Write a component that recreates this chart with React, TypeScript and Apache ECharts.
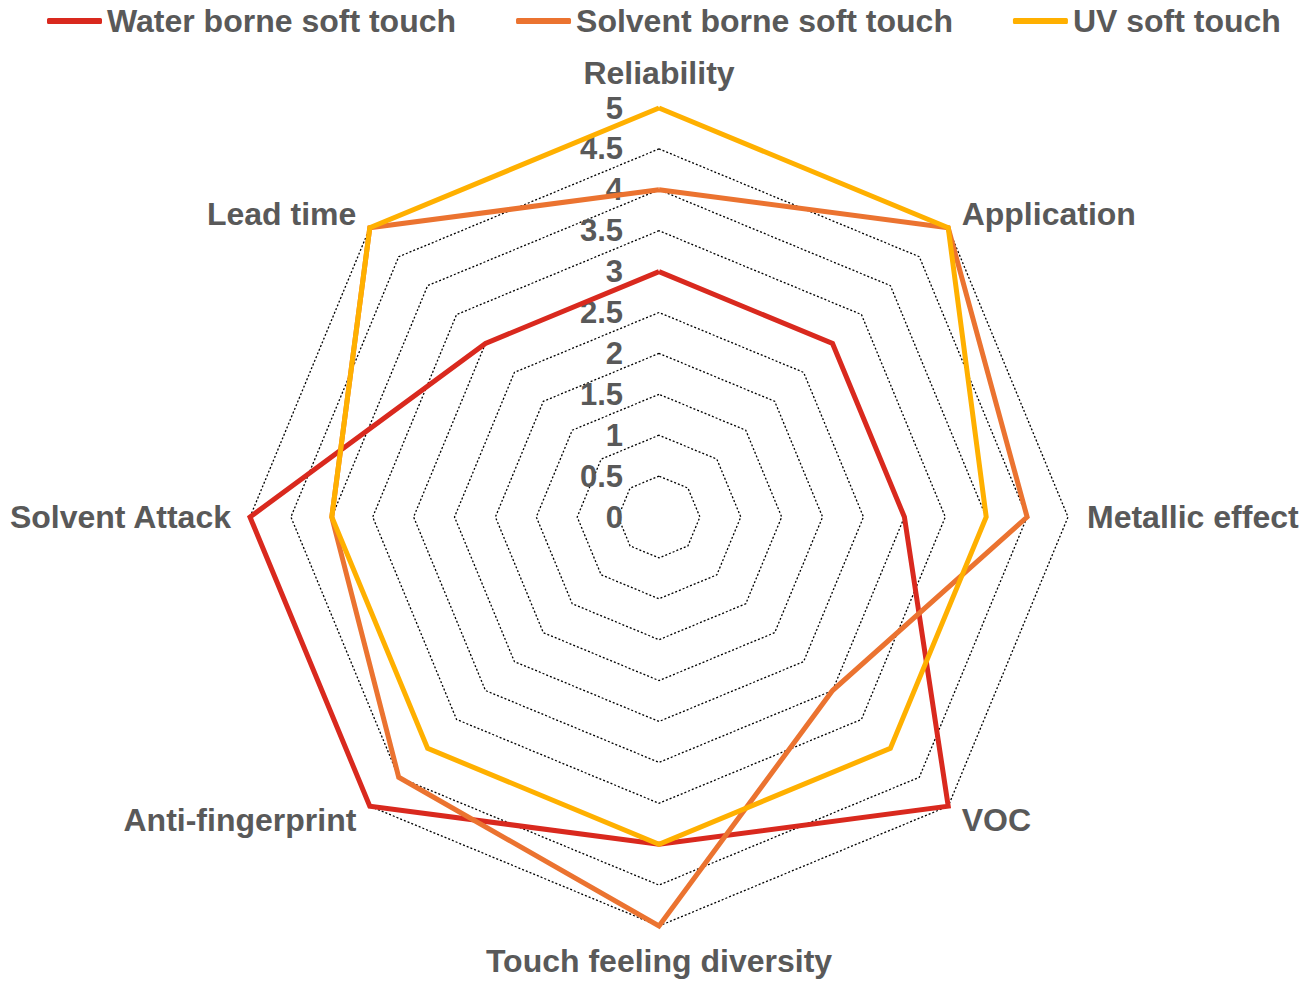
import React, { useEffect, useRef } from "react";
import * as echarts from "echarts";

// Indicators listed clockwise starting from the top
const categories = [
  "Reliability",
  "Application",
  "Metallic effect",
  "VOC",
  "Touch feeling diversity",
  "Anti-fingerprint",
  "Solvent Attack",
  "Lead time",
];
const seriesNames = ["Water borne soft touch", "Solvent borne soft touch", "UV soft touch"];
const waterBorne = [3, 3, 3, 5, 4, 5, 5, 3];
const solventBorne = [4, 5, 4.5, 3, 5, 4.5, 4, 5];
const uvSoftTouch = [5, 5, 4, 4, 4, 4, 4, 5];
const axisMin = 0;
const axisMax = 5;
const axisStep = 0.5;

const colors = ["#D9291E", "#EB7330", "#FFB000"];
const textColor = "#595959";
const fontFamily = "'Liberation Sans', Arial, sans-serif";

// ECharts places radar indicators counter-clockwise; reorder for clockwise display
const order = [0, ...Array.from({ length: categories.length - 1 }, (_, i) => categories.length - 1 - i)];
const reorder = (arr: any[]) => order.map((i) => arr[i]);

export default function App() {
  const ref = useRef<HTMLDivElement>(null);
  useEffect(() => {
    document.body.style.margin = "0";
    if (!ref.current) return;
    const chart = echarts.init(ref.current, null, { renderer: "svg" });
    const indicators = reorder(categories).map((name: string, idx: number) => ({
      name,
      min: axisMin,
      max: axisMax,
      axisLabel:
        idx === 0
          ? {
              show: true,
              color: textColor,
              fontSize: 31,
              fontWeight: "bold",
              fontFamily,
              margin: 36,
            }
          : { show: false },
    }));
    chart.setOption({
      animation: false,
      backgroundColor: "#ffffff",
      color: colors,
      legend: {
        top: 0,
        left: 42,
        itemWidth: 55,
        itemHeight: 6,
        itemGap: 60,
        icon: "roundRect",
        data: seriesNames,
        textStyle: {
          color: textColor,
          fontSize: 32,
          fontWeight: "bold",
          fontFamily,
        },
      },
      radar: {
        center: [659, 517],
        radius: 409,
        startAngle: 90,
        shape: "polygon",
        splitNumber: Math.round((axisMax - axisMin) / axisStep),
        nameGap: 19,
        indicator: indicators,
        axisName: {
          color: textColor,
          fontSize: 32,
          fontWeight: "bold",
          fontFamily,
        },
        axisLine: { show: false },
        axisTick: { show: false },
        splitArea: { show: false },
        splitLine: {
          lineStyle: { color: "#000000", type: [2, 2], width: 1.3 },
        },
      },
      series: [
        {
          type: "radar",
          symbol: "none",
          data: [
            { name: seriesNames[0], value: reorder(waterBorne) },
            { name: seriesNames[1], value: reorder(solventBorne) },
            { name: seriesNames[2], value: reorder(uvSoftTouch) },
          ].map((d, i) => ({
            ...d,
            lineStyle: { color: colors[i], width: 5, join: "miter" },
            itemStyle: { color: colors[i] },
          })),
        },
      ],
    });
    return () => chart.dispose();
  }, []);
  return <div ref={ref} style={{ width: 1302, height: 984 }} />;
}
